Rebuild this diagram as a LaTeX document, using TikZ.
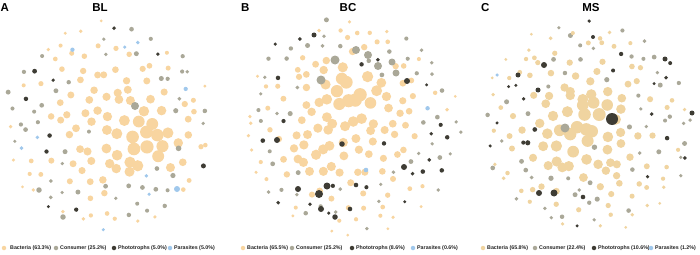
\documentclass[tikz,border=0pt]{standalone}
\usepackage{fontspec}
\setmainfont{Liberation Sans}
\pgfdeclarelayer{bg}
\pgfsetlayers{bg,main}
\definecolor{bac}{RGB}{248,213,160}
\definecolor{bacc}{RGB}{240,212,160}
\definecolor{con}{RGB}{170,168,152}
\definecolor{pho}{RGB}{62,60,52}
\definecolor{par}{RGB}{160,200,236}
\definecolor{edg}{RGB}{214,219,228}
\definecolor{txt}{RGB}{35,35,35}
\tikzset{
  ndot/.style={circle,inner sep=0pt,draw=none,minimum size=#1},
  nedge/.style={draw=edg,line width=0.4pt},
  ttl/.style={font=\bfseries\fontsize{11.5}{11.5}\selectfont,inner sep=0pt,anchor=north},
  plab/.style={font=\bfseries\fontsize{11.5}{11.5}\selectfont,inner sep=0pt,anchor=north west},
  leg/.style={font=\bfseries\fontsize{5.3}{6}\selectfont,text=txt,inner sep=0pt,anchor=west},
  ldot/.style={circle,inner sep=0pt,draw=none,minimum size=4.5pt},
}
\newcommand{\netpanel}[1]{%
 \foreach \i in {1,...,\pN}{%
   \pgfmathsetmacro{\rr}{sqrt((\i-0.5)/\pN)}%
   \pgfmathsetmacro{\ang}{10*mod(\i*13.7508,36)}%
   \pgfmathsetmacro{\ux}{\rr*cos(\ang)+0.045*rand}%
   \pgfmathsetmacro{\vy}{\rr*sin(\ang)+0.045*rand}%
   \pgfmathsetmacro{\ff}{min(1,sqrt(\ux*\ux+\vy*\vy))}%
   \pgfmathsetmacro{\ra}{rnd}%
   \pgfmathtruncatemacro{\cls}{\ff<\fin ? (\ra<\pinb ? 0 : (\ra<\pinc ? 1 : 2)) : (\ra<\pob ? 0 : (\ra<\poc ? 1 : (\ra<\pop ? 2 : 3)))}%
   \pgfmathsetmacro{\da}{(\ux-\hax)^2+(\vy-\hay)^2}%
   \pgfmathsetmacro{\db}{(\ux-\hbx)^2+(\vy-\hby)^2}%
   \pgfmathsetmacro{\hub}{\haa*exp(-\da/(2*\has*\has))+\hba*exp(-\db/(2*\hbs*\hbs))}%
   \ifcase\cls
     \pgfmathsetmacro{\sz}{1.5+2.5*(1-\ff*\ff)+1.1*\hub}\let\col\bcol
   \or \pgfmathsetmacro{\sz}{1.7+0.8*rnd+0.3*\hub}\def\col{con}%
   \or \pgfmathsetmacro{\sz}{1.6+0.8*rnd+0.3*\hub}\def\col{pho}%
   \or \pgfmathsetmacro{\sz}{1.7+0.5*rnd}\def\col{par}%
   \fi
   \pgfmathsetmacro{\dd}{2*\sz}%
   \node[ndot=\dd pt,fill=\col] (#1\i) at ({\pcx+\pR*\ux},{\pcy+\pR*\vy}) {};
 }%
 \begin{pgfonlayer}{bg}
 \foreach \i in {2,...,\pN}{%
   \foreach \kk in {8,13,21}{%
     \pgfmathtruncatemacro{\j}{\i-\kk}%
     \ifnum\j>0 \draw[nedge] (#1\i) -- (#1\j);\fi
   }%
 }%
 \end{pgfonlayer}%
}
\begin{document}
\begin{tikzpicture}[x=1pt,y=-1pt]
\useasboundingbox (0,0) rectangle (700,254);
\fill[white] (0,0) rectangle (700,254);

% ---------- Panel A ----------
\def\bcol{bac}
\def\pcx{108}\def\pcy{126}\def\pR{105}\def\pN{170}
\def\hax{0.40}\def\hay{0.18}\def\has{0.28}\def\haa{2.8}
\def\hbx{0}\def\hby{0}\def\hbs{0.2}\def\hba{0}
\def\fin{0.55}\def\pinb{0.93}\def\pinc{1.01}
\def\pob{0.42}\def\poc{0.78}\def\pop{0.88}
\pgfmathsetseed{11}
\netpanel{a}
\node[ndot=8pt,fill=con] (ax1) at (135,106) {};
\node[ndot=6pt,fill=par] (ax2) at (177,189) {};
\node[ndot=5.5pt,fill=con] (ax3) at (39,190) {};
\node[ndot=5.5pt,fill=con] (ax4) at (63,217) {};

% ---------- Panel B ----------
\def\pcx{350}\def\pcy{126}\def\pR{108}\def\pN{200}
\def\hax{0.03}\def\hay{-0.34}\def\has{0.22}\def\haa{2.8}
\def\hbx{-0.34}\def\hby{0.30}\def\hbs{0.2}\def\hba{1.4}
\def\fin{0.52}\def\pinb{0.95}\def\pinc{0.95}
\def\pob{0.55}\def\poc{0.83}\def\pop{0.99}
\pgfmathsetseed{27}
\netpanel{b}
\node[ndot=9pt,fill=con] (bx1) at (335,60) {};
\node[ndot=8pt,fill=con] (bx2) at (356,50) {};
\node[ndot=8pt,fill=con] (bx3) at (368,55) {};
\node[ndot=8pt,fill=con] (bx4) at (378,66) {};
\node[ndot=7pt,fill=con] (bx5) at (392,62) {};
\node[ndot=7pt,fill=con] (bx6) at (396,73) {};
\node[ndot=9pt,fill=con] (bx7) at (321,80) {};
\node[ndot=6pt,fill=pho] (bx8) at (407,81) {};
\node[ndot=6pt,fill=pho] (bx9) at (277,140) {};
\node[ndot=5.5pt,fill=pho] (bx10) at (342,144) {};
\node[ndot=6pt,fill=pho] (bx11) at (404,167) {};
\node[ndot=7pt,fill=pho] (bx12) at (327,186) {};
\node[ndot=8pt,fill=pho] (bx13) at (319,194) {};
\node[ndot=6pt,fill=pho] (bx14) at (298,189) {};
\node[ndot=6pt,fill=pho] (bx15) at (321,209) {};
\node[ndot=5.5pt,fill=pho] (bx16) at (335,217) {};
\node[ndot=4.6pt,fill=pho] (bx17) at (356,185) {};
\node[ndot=4.6pt,fill=pho] (bx18) at (350,209) {};
\node[ndot=5pt,fill=pho] (bx19) at (314,35) {};
\node[ndot=4.6pt,fill=par] (bx20) at (366,170) {};

% ---------- Panel C ----------
\def\bcol{bacc}
\def\pcx{588}\def\pcy{126}\def\pR{106}\def\pN{190}
\def\hax{-0.17}\def\hay{0.13}\def\has{0.3}\def\haa{2.0}
\def\hbx{0.12}\def\hby{-0.15}\def\hbs{0.15}\def\hba{1.4}
\def\fin{0.5}\def\pinb{0.95}\def\pinc{1.01}
\def\pob{0.5}\def\poc{0.82}\def\pop{0.99}
\pgfmathsetseed{5}
\netpanel{c}
\node[ndot=12pt,fill=pho] (cx1) at (612,119) {};
\node[ndot=9pt,fill=con] (cx2) at (565,128) {};
\node[ndot=7pt,fill=pho] (cx3) at (554,193) {};
\node[ndot=6pt,fill=pho] (cx4) at (539,193) {};
\node[ndot=6pt,fill=pho] (cx5) at (544,65) {};
\node[ndot=5pt,fill=pho] (cx6) at (518,75) {};
\node[ndot=5pt,fill=pho] (cx7) at (538,90) {};
\node[ndot=5pt,fill=pho] (cx8) at (692,113) {};
\node[ndot=5pt,fill=pho] (cx9) at (665,59) {};
\node[ndot=4pt,fill=pho] (cx10) at (593,37) {};
\node[ndot=4.6pt,fill=pho] (cx11) at (583,197) {};
\node[ndot=3.5pt,fill=par] (cx12) at (497,75) {};

% ---------- titles ----------
\node[plab] (tA) at (0.5,3) {A};
\node[ttl] (tBL) at (100,3) {BL};
\node[plab] (tB) at (241,3) {B};
\node[ttl] (tBC) at (348,3) {BC};
\node[plab] (tC) at (481,3) {C};
\node[ttl] (tMS) at (591,3) {MS};

% ---------- legends ----------
\node[ldot,fill=bac] (la1) at (4,248) {};
\node[leg] (lta1) at (10,248) {Bacteria (63.3\%)};
\node[ldot,fill=con] (la2) at (56,248) {};
\node[leg] (lta2) at (60,248) {Consumer (25.2\%)};
\node[ldot,fill=pho] (la3) at (114,248) {};
\node[leg] (lta3) at (118,248) {Phototrophs (5.0\%)};
\node[ldot,fill=par] (la4) at (170,248) {};
\node[leg] (lta4) at (174,248) {Parasites (5.0\%)};

\node[ldot,fill=bac] (lb1) at (243,248) {};
\node[leg] (ltb1) at (247,248) {Bacteria (65.5\%)};
\node[ldot,fill=con] (lb2) at (292,248) {};
\node[leg] (ltb2) at (296,248) {Consumer (25.2\%)};
\node[ldot,fill=pho] (lb3) at (352,248) {};
\node[leg] (ltb3) at (356,248) {Phototrophs (8.6\%)};
\node[ldot,fill=par] (lb4) at (413,248) {};
\node[leg] (ltb4) at (417,248) {Parasites (0.6\%)};

\node[ldot,fill=bacc] (lc1) at (483,248) {};
\node[leg] (ltc1) at (487,248) {Bacteria (65.8\%)};
\node[ldot,fill=con] (lc2) at (535,248) {};
\node[leg] (ltc2) at (539,248) {Consumer (22.4\%)};
\node[ldot,fill=pho] (lc3) at (594,248) {};
\node[leg] (ltc3) at (598,248) {Phototrophs (10.6\%)};
\node[ldot,fill=par] (lc4) at (651,248) {};
\node[leg] (ltc4) at (655,248) {Parasites (1.2\%)};
\end{tikzpicture}
\end{document}
